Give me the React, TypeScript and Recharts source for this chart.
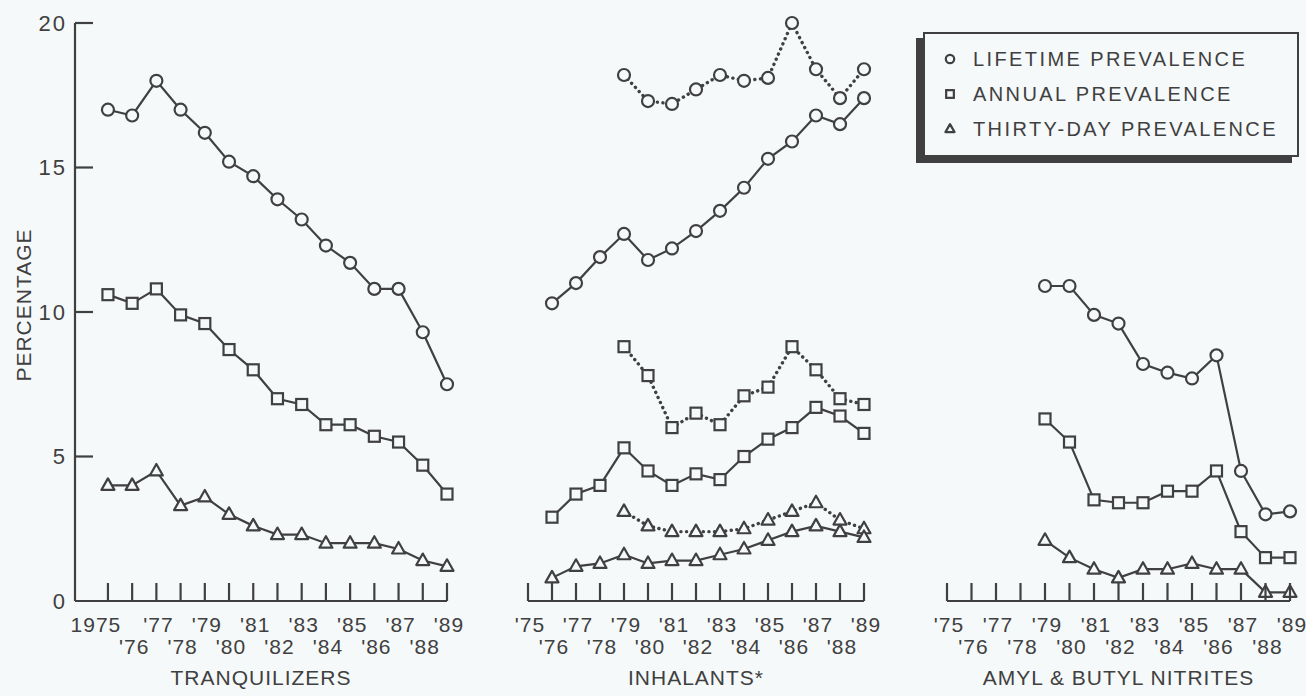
import React from "react";
import { LineChart, Line, XAxis, YAxis } from "recharts";

const years = [1975, 1976, 1977, 1978, 1979, 1980, 1981, 1982, 1983, 1984, 1985, 1986, 1987, 1988, 1989];
const yTicks = [0, 5, 10, 15, 20];

// tranquilizers, 1975-1989
const tranqLifetime = [17.0, 16.8, 18.0, 17.0, 16.2, 15.2, 14.7, 13.9, 13.2, 12.3, 11.7, 10.8, 10.8, 9.3, 7.5];
const tranqAnnual = [10.6, 10.3, 10.8, 9.9, 9.6, 8.7, 8.0, 7.0, 6.8, 6.1, 6.1, 5.7, 5.5, 4.7, 3.7];
const tranqThirtyDay = [4.0, 4.0, 4.5, 3.3, 3.6, 3.0, 2.6, 2.3, 2.3, 2.0, 2.0, 2.0, 1.8, 1.4, 1.2];

// inhalants, solid from 1976, adjusted (dotted) from 1979
const inhLifetime = [10.3, 11.0, 11.9, 12.7, 11.8, 12.2, 12.8, 13.5, 14.3, 15.3, 15.9, 16.8, 16.5, 17.4];
const inhLifetimeAdj = [18.2, 17.3, 17.2, 17.7, 18.2, 18.0, 18.1, 20.0, 18.4, 17.4, 18.4];
const inhAnnual = [2.9, 3.7, 4.0, 5.3, 4.5, 4.0, 4.4, 4.2, 5.0, 5.6, 6.0, 6.7, 6.4, 5.8];
const inhAnnualAdj = [8.8, 7.8, 6.0, 6.5, 6.1, 7.1, 7.4, 8.8, 8.0, 7.0, 6.8];
const inhThirtyDay = [0.8, 1.2, 1.3, 1.6, 1.3, 1.4, 1.4, 1.6, 1.8, 2.1, 2.4, 2.6, 2.4, 2.2];
const inhThirtyDayAdj = [3.1, 2.6, 2.4, 2.4, 2.4, 2.5, 2.8, 3.1, 3.4, 2.8, 2.5];

// amyl & butyl nitrites, from 1979
const nitLifetime = [10.9, 10.9, 9.9, 9.6, 8.2, 7.9, 7.7, 8.5, 4.5, 3.0, 3.1];
const nitAnnual = [6.3, 5.5, 3.5, 3.4, 3.4, 3.8, 3.8, 4.5, 2.4, 1.5, 1.5];
const nitThirtyDay = [2.1, 1.5, 1.1, 0.8, 1.1, 1.1, 1.3, 1.1, 1.1, 0.3, 0.3];

const legendItems = ["LIFETIME PREVALENCE", "ANNUAL PREVALENCE", "THIRTY-DAY PREVALENCE"];

const INK = "#404040";
const BG = "#f6f9fa";
const FONT = "'Liberation Sans', Arial, sans-serif";

type Shape = "circle" | "square" | "triangle";

const toRows = (start: number, values: number[]) =>
  values.map((value, i) => ({ year: start + i, value }));

const markerSvg = (shape: Shape, cx: number, cy: number, key?: any, s = 1) => {
  if (shape === "circle")
    return <circle key={key} cx={cx} cy={cy} r={6 * s} fill={BG} stroke={INK} strokeWidth={2.2} />;
  if (shape === "square")
    return <rect key={key} x={cx - 5.5 * s} y={cy - 5.5 * s} width={11 * s} height={11 * s} fill={BG} stroke={INK} strokeWidth={2.2} />;
  return (
    <polygon key={key} points={`${cx},${cy - 7 * s} ${cx + 6.5 * s},${cy + 4.5 * s} ${cx - 6.5 * s},${cy + 4.5 * s}`}
      fill={BG} stroke={INK} strokeWidth={2.2} strokeLinejoin="round" />
  );
};

const makeDot = (shape: Shape) => (props: any) => {
  const { cx, cy, index } = props;
  if (cx == null || cy == null) return <g key={index} />;
  return markerSvg(shape, cx, cy, index);
};

const makeXTick = (fullFirst: boolean) => (props: any) => {
  const { x, y, payload } = props;
  const yr = payload.value as number;
  const odd = (yr - 1975) % 2 === 0;
  const label = fullFirst && yr === 1975 ? "1975" : "'" + String(yr).slice(2);
  return (
    <g>
      <line x1={x} y1={y} x2={x} y2={y - 18} stroke={INK} strokeWidth={2.2} />
      <text x={label === "1975" ? x - 12 : x + 2} y={odd ? y + 23 : y + 45} textAnchor="middle"
        dominantBaseline="central" fill={INK} fontSize={21} fontFamily={FONT} letterSpacing={1}>
        {label}
      </text>
    </g>
  );
};

const YTick = (props: any) => {
  const { x, y, payload } = props;
  return (
    <g>
      {payload.value !== 0 && <line x1={x} y1={y} x2={x + 18} y2={y} stroke={INK} strokeWidth={2.2} />}
      <text x={x - 8} y={y} textAnchor="end" dominantBaseline="central" fill={INK}
        fontSize={22} fontFamily={FONT} letterSpacing={2}>
        {payload.value}
      </text>
    </g>
  );
};

type Series = { rows: { year: number; value: number }[]; shape: Shape; dotted?: boolean };

function Panel(props: {
  left: number; width: number; marginLeft: number; marginRight: number;
  domainMin: number; title: string; series: Series[]; showY?: boolean;
}) {
  const { left, width, marginLeft, marginRight, domainMin, title, series, showY } = props;
  return (
    <div style={{ position: "absolute", left, top: 0 }}>
      <LineChart width={width} height={696} margin={{ top: 23, right: marginRight, bottom: 5, left: marginLeft }}>
        <XAxis dataKey="year" type="number" domain={[domainMin, 1989]} ticks={years} interval={0}
          height={90} tickSize={0} tickMargin={0} tickLine={false}
          axisLine={{ stroke: INK, strokeWidth: 2.2 }} tick={makeXTick(!!showY)}
          label={{ value: title, position: "insideBottom", offset: 6, fill: INK, fontSize: 21, fontFamily: FONT, letterSpacing: 1 } as any} />
        {showY ? (
          <YAxis domain={[0, 20]} ticks={yTicks} interval={0} width={75} tickSize={0} tickMargin={0}
            tickLine={false} axisLine={{ stroke: INK, strokeWidth: 2.2 }} tick={YTick} />
        ) : (
          <YAxis domain={[0, 20]} hide width={0} />
        )}
        {series.map((s, i) => (
          <Line key={i} data={s.rows} dataKey="value" type="linear" stroke={INK}
            strokeWidth={s.dotted ? 3.4 : 2.2} strokeDasharray={s.dotted ? "0.1 5.5" : undefined}
            strokeLinecap="round" dot={makeDot(s.shape)} activeDot={false} isAnimationActive={false} />
        ))}
      </LineChart>
    </div>
  );
}

export default function App() {
  const tranq: Series[] = [
    { rows: toRows(1975, tranqLifetime), shape: "circle" },
    { rows: toRows(1975, tranqAnnual), shape: "square" },
    { rows: toRows(1975, tranqThirtyDay), shape: "triangle" },
  ];
  const inh: Series[] = [
    { rows: toRows(1979, inhLifetimeAdj), shape: "circle", dotted: true },
    { rows: toRows(1976, inhLifetime), shape: "circle" },
    { rows: toRows(1979, inhAnnualAdj), shape: "square", dotted: true },
    { rows: toRows(1976, inhAnnual), shape: "square" },
    { rows: toRows(1979, inhThirtyDayAdj), shape: "triangle", dotted: true },
    { rows: toRows(1976, inhThirtyDay), shape: "triangle" },
  ];
  const nit: Series[] = [
    { rows: toRows(1979, nitLifetime), shape: "circle" },
    { rows: toRows(1979, nitAnnual), shape: "square" },
    { rows: toRows(1979, nitThirtyDay), shape: "triangle" },
  ];
  const shapes: Shape[] = ["circle", "square", "triangle"];
  return (
    <div style={{ position: "absolute", left: 0, top: 0, width: 1306, height: 696, background: BG, overflow: "hidden" }}>
      <Panel left={0} width={480} marginLeft={0} marginRight={33} domainMin={1973.64}
        title="TRANQUILIZERS" series={tranq} showY />
      <Panel left={500} width={390} marginLeft={28} marginRight={26} domainMin={1975}
        title="INHALANTS*" series={inh} />
      <Panel left={920} width={386} marginLeft={27} marginRight={16} domainMin={1975}
        title="AMYL & BUTYL NITRITES" series={nit} />
      <div style={{ position: "absolute", left: 8, top: 305, transform: "translate(-50%, -50%) rotate(-90deg)",
        marginLeft: 16, color: INK, fontFamily: FONT, fontSize: 21, letterSpacing: 1, whiteSpace: "nowrap" }}>
        PERCENTAGE
      </div>
      <div style={{ position: "absolute", left: 923, top: 32, width: 372, height: 121, border: `2px solid ${INK}`,
        boxShadow: `-7px 6px 0 ${INK}`, background: BG }}>
        {legendItems.map((name, i) => (
          <div key={name} style={{ position: "absolute", left: 14, top: 12 + i * 35, height: 26, display: "flex",
            alignItems: "center", color: INK, fontFamily: FONT, fontSize: 20, letterSpacing: 2.4, whiteSpace: "nowrap" }}>
            <svg width={24} height={24} style={{ marginRight: 10 }}>
              {markerSvg(shapes[i], 11, 12, undefined, 0.7)}
            </svg>
            {name}
          </div>
        ))}
      </div>
    </div>
  );
}
